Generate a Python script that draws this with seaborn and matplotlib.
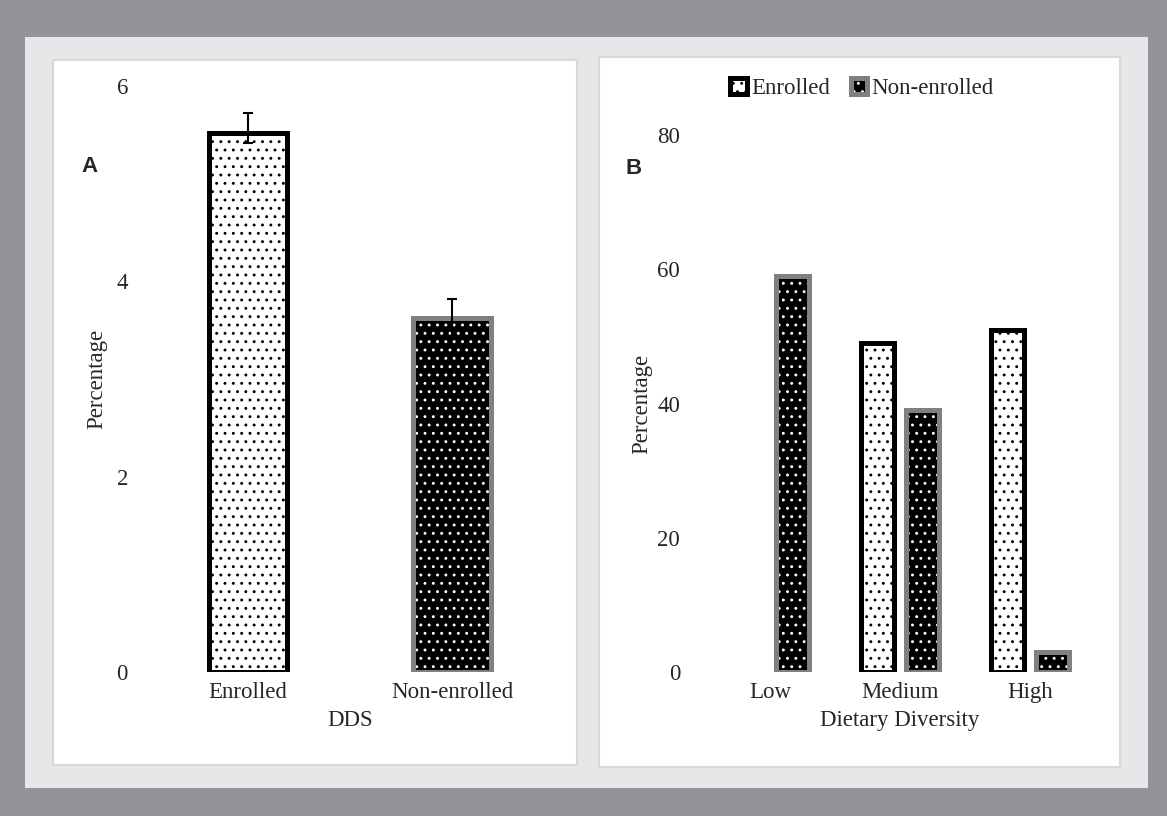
"""
Two-panel bar chart: mean DDS (A) and dietary diversity categories (B)
for enrolled vs non-enrolled groups.
"""

import numpy as np
import pandas as pd
import matplotlib
matplotlib.use('Agg')
import matplotlib.pyplot as plt
import matplotlib.colors as mcolors
from matplotlib.patches import Rectangle, Patch
import seaborn as sns


# Panel A - mean dietary diversity score
dds_groups = ['Enrolled', 'Non-enrolled']
dds_mean = [5.52, 3.62]
dds_err_low = [0.10, 0.20]
dds_err_high = [0.20, 0.20]

# Panel B - share of each dietary diversity level (%)
dd_levels = ['Low', 'Medium', 'High']
enrolled_pct = [0, 49, 51]
nonenrolled_pct = [59, 39, 3]


sns.set_theme(style='white')
plt.rcParams['font.family'] = ['Liberation Serif', 'DejaVu Serif']
plt.rcParams['hatch.linewidth'] = 0.9

FS = 16.5
FACE = {'Enrolled': 'white', 'Non-enrolled': 'black'}
EDGE = {'Enrolled': 'black', 'Non-enrolled': '#808080'}
DOTS = {'Enrolled': 'black', 'Non-enrolled': 'white'}


def style_bar(patch, group):
    patch.set_facecolor(FACE[group])
    patch.set_edgecolor(EDGE[group])
    patch.set_linewidth(3.6)
    patch.set_hatch('..')
    # mpl 3.10 ties hatch colour to the edge colour, override it
    patch._hatch_color = mcolors.to_rgba(DOTS[group])


df_a = pd.DataFrame({'group': dds_groups, 'value': dds_mean})
df_b = pd.DataFrame({
    'level': dd_levels * 2,
    'group': ['Enrolled'] * len(dd_levels) + ['Non-enrolled'] * len(dd_levels),
    'pct': enrolled_pct + nonenrolled_pct,
})

fig = plt.figure(figsize=(11.67, 8.16), dpi=100)
fig.patch.set_facecolor('#939497')

# frame and white panels behind the axes
fig.add_artist(Rectangle((0.0214, 0.0343), 0.9623, 0.9203, transform=fig.transFigure,
                         facecolor='#e6e7e8', edgecolor='none', zorder=-3))
fig.add_artist(Rectangle((0.0454, 0.0625), 0.449, 0.864, transform=fig.transFigure,
                         facecolor='white', edgecolor='#d8d8d8', linewidth=1.5, zorder=-2))
fig.add_artist(Rectangle((0.5133, 0.060), 0.4464, 0.870, transform=fig.transFigure,
                         facecolor='white', edgecolor='#d8d8d8', linewidth=1.5, zorder=-2))

ax_a = fig.add_axes([146 / 1167, 1 - 672 / 816, 408 / 1167, 586 / 816])
ax_b = fig.add_axes([705 / 1167, 1 - 672 / 816, 390 / 1167, 537 / 816])

# ---- Panel A ----
sns.barplot(data=df_a, x='group', y='value', hue='group', order=dds_groups,
            hue_order=dds_groups, width=0.38, dodge=False, errorbar=None,
            legend=False, ax=ax_a)
centers = []
for cont, grp in zip(ax_a.containers, dds_groups):
    for p in cont.patches:
        style_bar(p, grp)
        centers.append(p.get_x() + p.get_width() / 2)

ax_a.errorbar(centers, dds_mean, yerr=[dds_err_low, dds_err_high], fmt='none',
              ecolor='black', elinewidth=1.5, capsize=3.6, capthick=1.5, zorder=5)

ax_a.set_xlim(-0.5, 1.5)
ax_a.set_ylim(0, 6)
ax_a.set_yticks([0, 2, 4, 6])
ax_a.set_xlabel('DDS', fontsize=FS, labelpad=5)
ax_a.set_ylabel('Percentage', fontsize=FS)
ax_a.yaxis.set_label_coords(-0.096, 0.5)
ax_a.tick_params(axis='y', labelsize=FS, pad=13, length=0)
ax_a.tick_params(axis='x', labelsize=FS, pad=7, length=0)

# ---- Panel B ----
sns.barplot(data=df_b, x='level', y='pct', hue='group', order=dd_levels,
            hue_order=dds_groups, width=0.677, gap=0.25, errorbar=None,
            legend=False, ax=ax_b)
for cont, grp in zip(ax_b.containers, dds_groups):
    for p in cont.patches:
        style_bar(p, grp)
        if p.get_height() == 0:
            p.set_linewidth(0)

ax_b.set_xlim(-0.5, 2.5)
ax_b.set_ylim(0, 80)
ax_b.set_yticks([0, 20, 40, 60, 80])
ax_b.set_xlabel('Dietary Diversity', fontsize=FS, labelpad=5)
ax_b.set_ylabel('Percentage', fontsize=FS)
ax_b.yaxis.set_label_coords(-0.136, 0.5)
ax_b.tick_params(axis='y', labelsize=FS, pad=18, length=0)
ax_b.tick_params(axis='x', labelsize=FS, pad=7, length=0)

handles = []
for grp in dds_groups:
    h = Patch(label=grp)
    style_bar(h, grp)
    handles.append(h)
ax_b.legend(handles=handles, loc='center', bbox_to_anchor=(0.7387, 0.892),
            bbox_transform=fig.transFigure, ncol=2, frameon=False, fontsize=FS,
            handlelength=0.72, handleheight=0.72, handletextpad=0.2,
            columnspacing=0.9)

for ax in (ax_a, ax_b):
    ax.set_facecolor('none')
    sns.despine(ax=ax, left=True, bottom=True)

# panel letters
fig.text(89 / 1167, 1 - 166 / 816, 'A', fontsize=16, fontweight='bold',
         family='Liberation Sans', ha='center', va='center')
fig.text(634 / 1167, 1 - 168 / 816, 'B', fontsize=16, fontweight='bold',
         family='Liberation Sans', ha='center', va='center')

plt.savefig('out.png', dpi=100, facecolor=fig.get_facecolor())
